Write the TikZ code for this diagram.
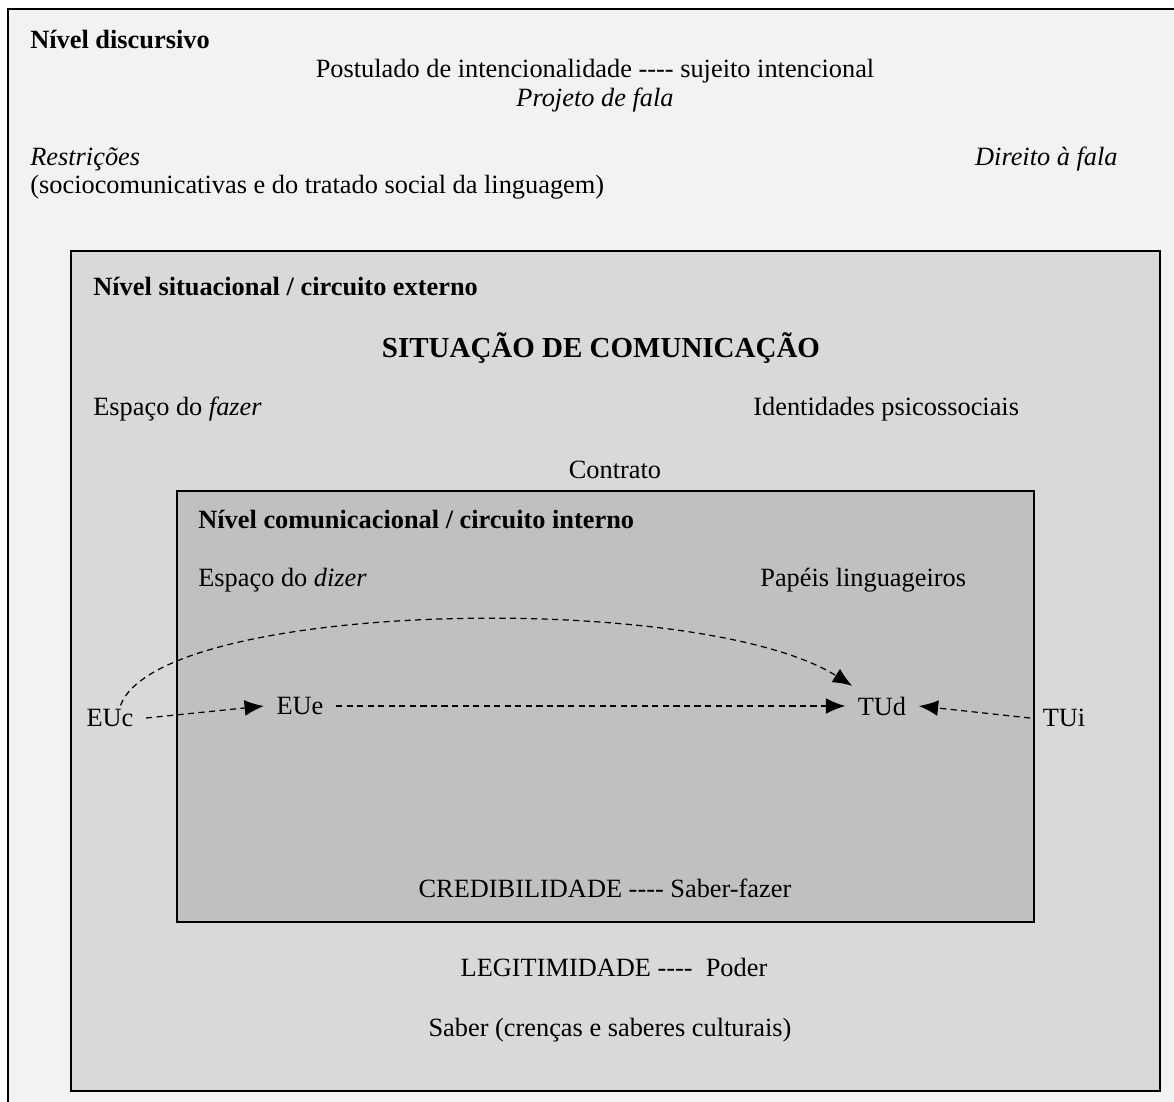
\documentclass[tikz,border=0pt]{standalone}
\usepackage{fontspec}
\setmainfont{Liberation Serif}
\usetikzlibrary{arrows.meta}
\definecolor{outerfill}{HTML}{F2F2F2}
\definecolor{midfill}{HTML}{D9D9D9}
\definecolor{innerfill}{HTML}{C0C0C0}
\newcommand{\qdash}{-{}-{}-{}-}

\begin{document}
\begin{tikzpicture}[
  x=0.02cm, y=-0.02cm,
  level/.style={draw=black,line width=1.6pt},
  txt/.style={inner sep=0pt,font=\fontsize{15}{18}\selectfont},
  lefttxt/.style={txt,anchor=west},
  actor/.style={inner sep=7pt,font=\fontsize{15}{18}\selectfont},
  flow/.style={line width=0.7pt,dash pattern=on 3.5pt off 2.5pt,-{Latex[length=11pt,width=9pt]}}
]
  \clip (0,0) rectangle (1174,1102);
  \fill[white] (0,0) rectangle (1174,1102);
  % the three levels
  \filldraw[level,fill=outerfill] (8,9) rectangle (1200,1130);
  \filldraw[level,fill=midfill] (71,251) rectangle (1160,1091);
  \filldraw[level,fill=innerfill] (177,491) rectangle (1034,922);
  % discursive level
  \node[lefttxt,font=\fontsize{15}{18}\selectfont\bfseries] (disc) at (30,40) {Nível discursivo};
  \node[txt] (postul) at (595,71) {Postulado de intencionalidade \qdash{} sujeito intencional};
  \node[txt,font=\fontsize{15}{18}\selectfont\itshape] (projeto) at (595,100) {Projeto de fala};
  \node[lefttxt,font=\fontsize{15}{18}\selectfont\itshape] (restr) at (30,159) {Restrições};
  \node[lefttxt] (socio) at (30,187) {(sociocomunicativas e do tratado social da linguagem)};
  \node[txt,anchor=east,font=\fontsize{15}{18}\selectfont\itshape] (direito) at (1118,159) {Direito à fala};
  % situational level
  \node[lefttxt,font=\fontsize{15}{18}\selectfont\bfseries] (sit) at (93,287) {Nível situacional / circuito externo};
  \node[txt,font=\fontsize{16.5}{20}\selectfont\bfseries] (situacao) at (601,348) {SITUAÇÃO DE COMUNICAÇÃO};
  \node[lefttxt] (fazer) at (93,409) {Espaço do \textit{fazer}};
  \node[lefttxt] (ident) at (753,409) {Identidades psicossociais};
  \node[txt] (contrato) at (615,470) {Contrato};
  \node[txt] (legit) at (614,967) {LEGITIMIDADE \qdash\ \ Poder};
  \node[txt] (saber) at (610,1030) {Saber (crenças e saberes culturais)};
  % communicational level
  \node[lefttxt,font=\fontsize{15}{18}\selectfont\bfseries] (com) at (198,520) {Nível comunicacional / circuito interno};
  \node[lefttxt] (dizer) at (198,580) {Espaço do \textit{dizer}};
  \node[lefttxt] (papeis) at (760,580) {Papéis linguageiros};
  \node[txt] (cred) at (605,888) {CREDIBILIDADE \qdash{} Saber-fazer};
  % subjects
  \node[actor] (EUc) at (110,718) {EUc};
  \node[actor] (EUe) at (300,706) {EUe};
  \node[actor] (TUd) at (882,706) {TUd};
  \node[actor] (TUi) at (1064,718) {TUi};
  \draw[flow] (EUc.east) -- (EUe.west);
  \draw[flow] (EUe.east) -- (TUd.west);
  \draw[flow] (TUi.west) -- (TUd.east);
  \draw[flow] ([xshift=6pt,yshift=-5pt]EUc.north) .. controls (160,600) and (700,590) .. ([xshift=4pt,yshift=-1pt]TUd.north west);
\end{tikzpicture}
\end{document}
